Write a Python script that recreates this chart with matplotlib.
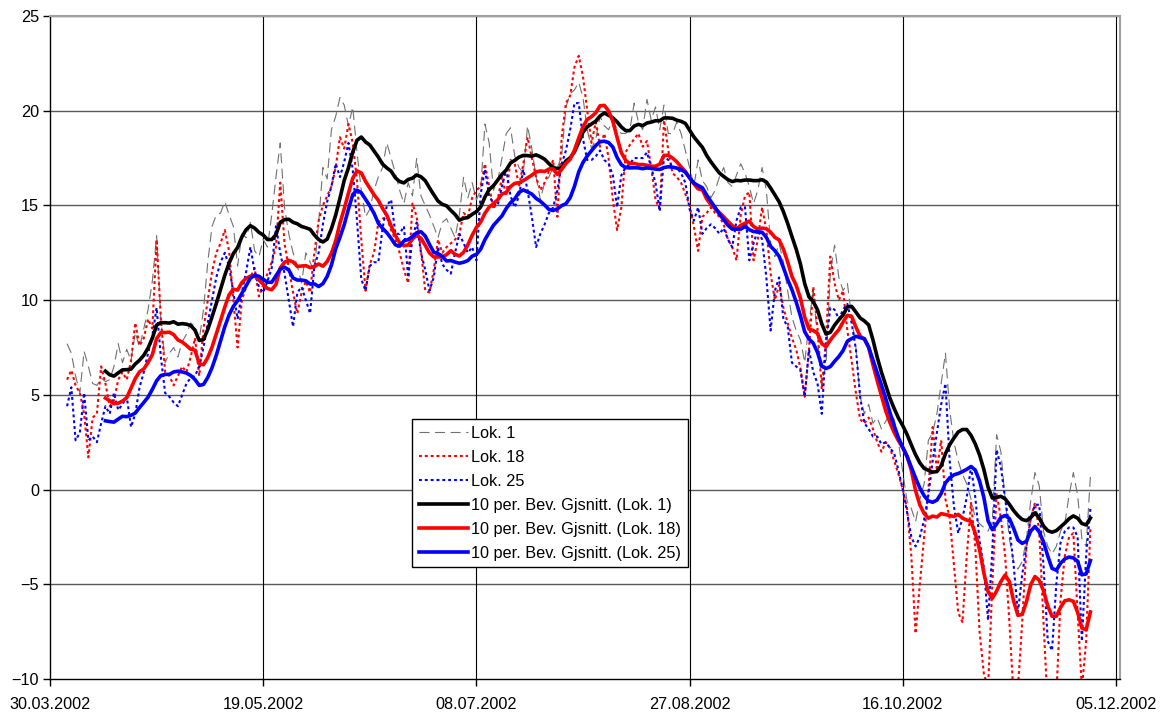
import matplotlib
matplotlib.use("Agg")
import matplotlib.pyplot as plt
import matplotlib.dates as mdates
import pandas as pd

plt.rcParams['font.family'] = ['Liberation Sans', 'DejaVu Sans']

# Daily temperatures from 03.04.2002
start_day = '2002-04-03'

lok1 = [
    7.7, 7.2, 6.0, 5.1, 7.3, 6.5, 5.6, 5.5, 5.9, 5.7,
    5.8, 6.5, 7.7, 6.7, 7.4, 6.8, 8.3, 7.5, 8.5, 9.5,
    11.0, 13.4, 9.0, 6.7, 7.2, 7.5, 7.0, 7.8, 8.2, 8.8,
    8.6, 7.9, 9.5, 12.0, 13.9, 14.5, 14.6, 15.2, 14.5, 13.9,
    11.8, 13.5, 13.3, 14.1, 12.6, 12.3, 13.2, 12.8, 14.5, 16.5,
    18.3, 14.9, 13.5, 12.5, 11.8, 10.9, 12.5, 12.0, 11.5, 14.1,
    17.0, 16.4, 19.0, 19.7, 20.7, 20.3, 19.2, 20.2, 17.8, 15.8,
    14.4, 14.8, 15.8, 16.5, 17.0, 18.3, 17.5, 16.7, 15.8, 15.1,
    16.2, 15.5, 17.5, 15.5, 15.0, 14.5, 13.9, 13.3, 14.1, 14.3,
    13.8, 13.3, 14.5, 16.5, 15.4, 16.2, 15.3, 15.8, 19.3, 18.3,
    15.8, 16.3, 17.5, 18.8, 19.1, 17.6, 17.0, 16.7, 19.2, 18.0,
    16.5, 15.3, 16.2, 16.5, 17.0, 17.0, 17.6, 20.2, 20.9, 21.1,
    21.5, 20.7, 19.0, 18.0, 18.5, 19.7, 19.2, 19.0, 19.5, 19.0,
    18.8, 18.8, 19.0, 20.4, 19.4, 19.0, 20.6, 19.5, 20.2, 19.0,
    20.3, 18.8, 18.8, 19.4, 18.8, 17.9, 17.0, 16.0, 17.4, 16.3,
    16.0, 15.4, 15.8, 16.5, 17.0, 16.2, 16.0, 16.6, 17.2, 16.7,
    16.0, 15.1, 15.8, 17.0, 15.8, 13.0, 12.3, 13.0, 12.0, 10.5,
    9.1, 8.4, 7.9, 6.7, 8.8, 10.5, 8.0, 5.6, 6.6, 11.4,
    12.9, 11.2, 10.5, 10.9, 9.1, 7.5, 4.9, 4.0, 4.5, 3.5,
    3.8, 3.2, 3.6, 4.0, 3.7, 2.5, 0.9, -0.6, -1.0, -1.7,
    -0.5, 0.3, 2.6, 3.0, 4.0, 5.6, 7.2, 4.2, 2.5, 1.5,
    0.8, 0.3, -0.5, -1.5, -1.8, -2.0, -2.2, -1.6, 2.9, 2.0,
    -0.5, -2.6, -3.8, -4.2, -3.8, -2.6, -0.6, 0.9, 0.2, -2.2,
    -3.0, -3.4, -3.0, -2.2, -1.8, -0.3, 0.9, -0.3, -2.6, -3.0, 0.7,
]

lok18 = [
    5.8, 6.3, 5.5, 5.1, 4.0, 1.7, 3.8, 4.0, 6.5, 5.6,
    4.4, 4.7, 5.8, 6.2, 5.8, 6.8, 8.8, 7.6, 8.0, 9.0,
    8.5, 13.2, 9.0, 6.2, 6.0, 5.5, 6.0, 6.5, 6.2, 7.0,
    8.0, 6.0, 8.5, 10.0, 11.5, 12.5, 13.0, 13.7, 12.6, 10.0,
    7.5, 10.0, 10.7, 11.2, 11.7, 10.2, 10.8, 11.4, 12.0, 12.8,
    16.2, 13.0, 11.7, 10.4, 9.3, 10.4, 11.0, 10.4, 12.5, 14.2,
    15.0, 15.5, 16.0, 17.0, 18.6, 18.0, 19.3, 18.3, 16.3, 13.2,
    10.5, 11.9, 12.5, 14.1, 14.3, 14.4, 13.7, 13.2, 12.5, 11.6,
    10.9, 15.1, 14.4, 12.6, 10.5, 10.4, 11.6, 13.2, 12.5, 12.8,
    13.0, 13.2, 13.5, 14.6, 14.4, 15.4, 15.8, 16.0, 17.2, 16.0,
    14.8, 15.3, 16.5, 15.5, 17.4, 17.2, 16.0, 17.2, 18.6, 17.5,
    16.5, 15.8, 16.2, 16.8, 17.4, 14.4, 18.6, 20.4, 20.8, 22.3,
    22.9, 21.8, 20.0, 18.3, 19.4, 18.1, 18.8, 17.5, 15.3, 13.7,
    14.9, 17.8, 18.2, 18.5, 18.8, 18.1, 18.4, 17.0, 15.3, 14.8,
    19.5, 17.9, 16.7, 16.5, 16.2, 15.6, 15.0, 13.9, 12.6, 14.4,
    14.6, 14.9, 14.6, 14.4, 14.0, 13.2, 12.8, 12.1, 14.5, 15.5,
    15.7, 12.1, 13.2, 14.9, 13.7, 11.4, 10.0, 10.8, 9.6, 8.8,
    8.0, 7.4, 6.4, 4.9, 7.4, 10.7, 8.5, 5.3, 8.0, 12.3,
    10.9, 10.0, 10.5, 8.4, 6.8, 5.1, 3.7, 3.5, 3.8, 3.2,
    2.5, 2.0, 2.5, 2.2, 1.5, 0.8, 0.0, -1.0, -3.5, -7.6,
    -5.0, -2.5, 0.0, 3.3, 1.0, 2.6, -0.5, -1.5, -4.0, -6.5,
    -7.0, -3.5, -0.7, -3.0, -7.5, -9.7, -10.5, -5.0, -0.2, -1.5,
    -3.5, -7.0, -11.0, -10.5, -7.0, -3.0, -1.5, -0.7, -2.2, -7.0,
    -11.5, -12.5, -11.0, -5.8, -3.5, -2.5, -2.3, -6.5, -10.5, -8.0, -2.0,
]

lok25 = [
    4.4, 5.4, 2.6, 3.0, 5.1, 2.6, 2.8, 2.5, 3.5, 4.4,
    4.0, 5.1, 4.2, 4.5, 4.9, 3.3, 4.0, 5.4, 6.2, 7.2,
    8.1, 9.6, 7.0, 5.1, 4.9, 4.6, 4.4, 5.0, 5.6, 5.9,
    6.0, 6.5, 7.5, 8.8, 10.0, 11.2, 12.0, 12.5, 11.8, 10.4,
    9.0, 10.4, 11.5, 12.8, 11.5, 10.7, 10.4, 11.0, 11.7, 13.9,
    12.5, 11.4, 10.0, 8.6, 10.4, 10.7, 10.0, 9.3, 11.8, 12.5,
    14.0, 15.2, 16.0, 17.2, 16.5, 17.3, 18.3, 16.9, 14.2, 11.1,
    10.5, 11.8, 12.0, 12.0, 13.8, 15.0, 15.3, 13.5, 13.5, 13.9,
    11.2, 13.3, 14.1, 12.5, 11.6, 10.5, 11.2, 12.8, 11.9, 11.6,
    11.4, 12.5, 13.5, 13.0, 12.5, 12.8, 12.1, 15.6, 16.9, 15.5,
    15.1, 15.0, 16.0, 16.9, 15.5, 14.9, 15.5, 16.9, 15.8, 14.4,
    12.8, 13.5, 14.0, 14.6, 14.9, 15.8, 17.2, 17.9, 19.0, 20.4,
    20.4, 18.5, 17.4, 17.4, 17.6, 17.9, 17.4, 17.2, 16.6, 14.9,
    16.6, 17.0, 17.2, 17.5, 17.5, 17.5, 17.8, 17.0, 16.2, 14.7,
    17.6, 17.4, 17.0, 17.0, 16.7, 16.2, 14.8, 14.2, 14.9, 13.5,
    13.8, 14.0, 13.8, 13.5, 13.8, 13.2, 12.8, 14.2, 14.9, 14.9,
    12.1, 13.0, 13.7, 13.2, 11.2, 8.4, 10.5, 11.2, 9.0, 8.6,
    6.7, 6.5, 6.3, 4.9, 7.4, 6.2, 5.6, 4.0, 7.7, 9.6,
    9.5, 9.0, 9.5, 9.8, 8.8, 7.4, 4.9, 3.5, 3.2, 2.8,
    2.8, 2.4, 2.5, 2.2, 1.9, 1.0, 0.0, -1.2, -2.5, -3.0,
    -2.5, -1.6, -0.3, 1.5, 3.0, 4.5, 5.6, 1.5, -0.9, -2.3,
    -1.5, -0.4, 1.2, -0.4, -2.7, -4.1, -6.9, -3.2, 2.1, 1.2,
    -0.5, -2.0, -4.0, -6.5, -4.5, -3.0, -1.5, -0.8, -0.8, -4.0,
    -8.0, -8.5, -5.0, -2.8, -2.2, -2.0, -2.0, -2.5, -8.0, -3.5, -1.0,
]

tick_dates = ['2002-03-30', '2002-05-19', '2002-07-08',
              '2002-08-27', '2002-10-16', '2002-12-05']

dates = pd.date_range(start_day, periods=len(lok1), freq='D')
df = pd.DataFrame({'Lok. 1': lok1, 'Lok. 18': lok18, 'Lok. 25': lok25}, index=dates)
ma = df.rolling(10).mean()

fig = plt.figure(figsize=(11.68, 7.13), dpi=100)
ax = fig.add_axes([50 / 1168, 1 - 679 / 713, 1070 / 1168, 663 / 713])

ax.plot(df.index, df['Lok. 1'], color='#707070', lw=0.8, dashes=(9, 5), label='Lok. 1')
ax.plot(df.index, df['Lok. 18'], color='red', lw=1.5, dashes=(1.4, 1.4), label='Lok. 18')
ax.plot(df.index, df['Lok. 25'], color='blue', lw=1.5, dashes=(1.4, 1.4), label='Lok. 25')
ax.plot(ma.index, ma['Lok. 1'], color='black', lw=2.6, label='10 per. Bev. Gjsnitt. (Lok. 1)')
ax.plot(ma.index, ma['Lok. 18'], color='red', lw=2.6, label='10 per. Bev. Gjsnitt. (Lok. 18)')
ax.plot(ma.index, ma['Lok. 25'], color='blue', lw=2.6, label='10 per. Bev. Gjsnitt. (Lok. 25)')

ticks = pd.to_datetime(tick_dates)
x0 = mdates.date2num(ticks[0])
x1 = mdates.date2num(ticks[-1])
ax.set_xlim(x0, x1 + 0.94)
ax.set_ylim(-10, 25)
ax.set_yticks(range(-10, 26, 5))
ax.set_xticks(ticks)
ax.xaxis.set_major_formatter(mdates.DateFormatter('%d.%m.%Y'))

ax.grid(False)
for y in range(-5, 26, 5):
    ax.axhline(y, color='#5a5a5a', lw=1.0, zorder=0)
for t in ticks[1:]:
    ax.axvline(t, color='black', lw=0.8, zorder=0)

ax.spines['left'].set_color('black')
ax.spines['bottom'].set_color('black')
ax.spines['left'].set_linewidth(1.0)
ax.spines['bottom'].set_linewidth(1.0)
ax.spines['top'].set_color('#a0a0a0')
ax.spines['right'].set_color('#a0a0a0')
ax.spines['top'].set_linewidth(1.5)
ax.spines['right'].set_linewidth(1.5)

ax.tick_params(axis='both', direction='out', length=5, width=1, labelsize=11.7, color='black')
ax.tick_params(axis='x', pad=8)
ax.tick_params(axis='y', pad=3)

leg = ax.legend(loc='upper left', bbox_to_anchor=((412 - 50) / 1070, (679 - 419) / 663),
                fontsize=11.7, frameon=True, fancybox=False, framealpha=1,
                edgecolor='black', borderaxespad=0, borderpad=0.42,
                handlelength=3.0, handletextpad=0.2, labelspacing=0.55)
leg.get_frame().set_linewidth(1.0)

fig.savefig('out.png', dpi=100)
